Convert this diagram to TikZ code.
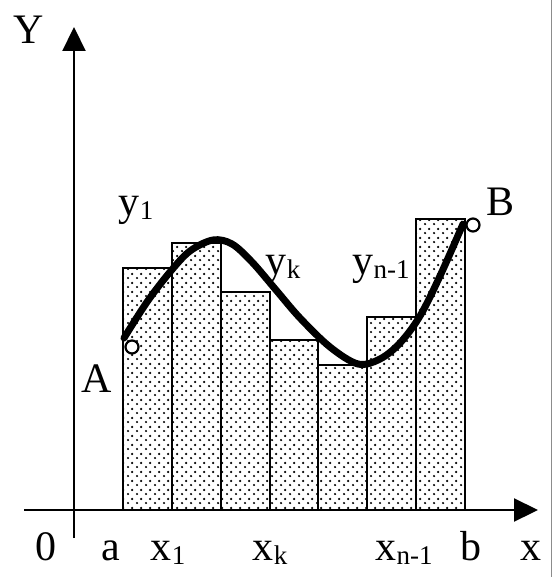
\documentclass[tikz,border=0pt]{standalone}
\usepackage{fontspec}
\setmainfont{Liberation Serif}
\usetikzlibrary{arrows.meta,patterns.meta}
\tikzdeclarepattern{
  name=sandDots,
  type=uncolored,
  bounding box={(0pt,0pt) and (9pt,9pt)},
  tile size={(9pt,9pt)},
  code={
    \fill (2.2pt,2.2pt) circle (1.35pt);
    \fill (6.7pt,6.7pt) circle (1.35pt);
  }
}
\newcommand{\lowsub}[1]{\raisebox{-4pt}{\fontsize{27}{27}\selectfont#1}}
\tikzset{
  axis/.style={line width=2.2pt,-{Triangle[length=24pt,width=23pt]}},
  bar/.style={draw,line width=2.4pt,pattern=sandDots},
  curve/.style={line width=7pt,line cap=round,line join=round},
  endpt/.style={circle,draw,line width=2.2pt,fill=white,minimum size=13pt,inner sep=0pt},
  lab/.style={font=\fontsize{42}{42}\selectfont,inner sep=0pt,anchor=base},
  scanedge/.style={draw=black!45,line width=0.8pt},
}
\begin{document}
\begin{tikzpicture}[x=1pt,y=-1pt]
  \useasboundingbox (0,0) rectangle (553,577);
  \draw[scanedge] (551,0) -- (551,577);
  % bars of the step sum
  \foreach \l/\r/\t in {123/172/268,172/221/243,221/270/292,270/318/340,
                        318/367/365,367/416/317,416/465/219}
    \draw[bar] (\l,510) rectangle (\r,\t);
  % axes
  \coordinate (xs) at (24,510);
  \coordinate (xe) at (538,510);
  \coordinate (ys) at (74,538);
  \coordinate (ye) at (74,27);
  \draw[axis] (xs) -- (xe);
  \draw[axis] (ys) -- (ye);
  % the curve
  \draw[curve] plot[smooth,tension=0.55] coordinates {
    (124,338) (147,302) (170,272) (190,251) (213,240) (232,244) (252,262)
    (276,290) (300,318) (330,347) (358,364) (380,359) (400,343) (420,316)
    (440,276) (463,224)};
  \node[endpt] (Apt) at (132,347) {};
  \node[endpt] (Bpt) at (473,225) {};
  % labels
  \node[lab] (Ylab) at (29,44) {Y};
  \node[lab] (zero) at (46,560) {0};
  \node[lab] (alab) at (111,560) {a};
  \node[lab] (x1lab) at (168,560) {x\lowsub{1}};
  \node[lab] (xklab) at (270,560) {x\lowsub{k}};
  \node[lab] (xnlab) at (404,560) {x\lowsub{n-1}};
  \node[lab] (blab) at (471,560) {b};
  \node[lab] (xlab) at (531,560) {x};
  \node[lab] (y1lab) at (136,215) {y\lowsub{1}};
  \node[lab] (yklab) at (283,274) {y\lowsub{k}};
  \node[lab] (ynlab) at (381,274) {y\lowsub{n-1}};
  \node[lab] (Alab) at (97,392) {A};
  \node[lab] (Blab) at (500,215) {B};
\end{tikzpicture}
\end{document}
